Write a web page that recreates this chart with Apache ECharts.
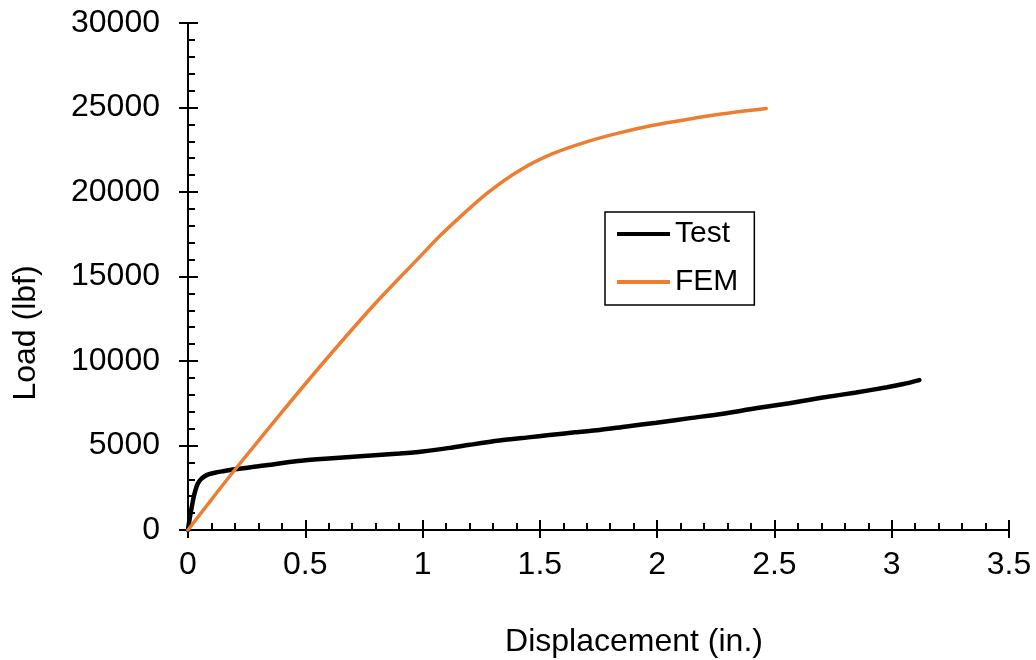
<!DOCTYPE html>
<html>
<head>
<meta charset="utf-8">
<title>Load vs Displacement</title>
<script src="https://cdn.jsdelivr.net/npm/echarts@6/dist/echarts.min.js"></script>
<style>
  html, body { margin: 0; padding: 0; background: #ffffff; }
  #chart { width: 1036px; height: 660px; }
</style>
</head>
<body>
<div id="chart"></div>
<script>
// Measured load-displacement response of the specimen
const testDisp = [0, 0.005, 0.014, 0.022, 0.0285, 0.036, 0.043, 0.055, 0.071, 0.09, 0.114, 0.15, 0.199,
  0.27, 0.341, 0.41, 0.483, 0.6, 0.75, 0.902, 1.0, 1.115, 1.2, 1.328, 1.45, 1.541, 1.65, 1.754,
  1.87, 1.997, 2.14, 2.281, 2.42, 2.564, 2.7, 2.849, 2.98, 3.05, 3.118];
const testLoad = [0, 500, 1200, 1800, 2200, 2550, 2780, 3000, 3180, 3300, 3390, 3480, 3590,
  3720, 3840, 3980, 4100, 4230, 4380, 4530, 4650, 4860, 5040, 5290, 5480, 5620, 5780, 5920,
  6130, 6350, 6620, 6880, 7200, 7500, 7820, 8140, 8450, 8640, 8870];

// Finite element prediction
const femDisp = [0, 0.1, 0.199, 0.4, 0.583, 0.8, 0.988, 1.07, 1.158, 1.273, 1.415, 1.557,
  1.699, 1.839, 1.983, 2.125, 2.266, 2.465];
const femLoad = [0, 1800, 3550, 6970, 10000, 13430, 16160, 17350, 18500, 19910, 21290, 22280,
  22970, 23500, 23950, 24290, 24600, 24940];

const seriesNames = ['Test', 'FEM'];
const xTitle = 'Displacement (in.)';
const yTitle = 'Load (lbf)';

const FONT = '"Liberation Sans", Arial, sans-serif';
const FS = 32;       // tick labels and axis titles
const FS_LEGEND = 30;

const pairs = (xs, ys) => xs.map((x, i) => [x, ys[i]]);

const chart = echarts.init(document.getElementById('chart'));

const xBase = { type: 'value', min: 0, max: 3.5, interval: 0.5, gridIndex: 0, position: 'bottom',
  splitLine: { show: false } };
const yBase = { type: 'value', min: 0, max: 30000, interval: 5000, gridIndex: 0, position: 'left',
  splitLine: { show: false } };
const axisLine = { show: true, onZero: false, lineStyle: { color: '#000', width: 2 } };

chart.setOption({
  animation: false,
  backgroundColor: '#ffffff',
  textStyle: { fontFamily: FONT },
  grid: { left: 188, right: 27, top: 23, bottom: 130, containLabel: false },
  xAxis: [
    Object.assign({}, xBase, {
      axisLine: axisLine,
      axisTick: { show: true, inside: true, length: 10, lineStyle: { color: '#000', width: 2 } },
      minorTick: { show: true, splitNumber: 5, length: 7, lineStyle: { color: '#000', width: 2 } },
      axisLabel: { color: '#000', fontSize: FS, fontFamily: FONT, margin: 19,
        formatter: v => String(v) }
    }),
    Object.assign({}, xBase, {
      axisLine: axisLine,
      axisTick: { show: true, inside: false, length: 8, lineStyle: { color: '#000', width: 2 } },
      minorTick: { show: false },
      axisLabel: { show: false }
    })
  ],
  yAxis: [
    Object.assign({}, yBase, {
      axisLine: axisLine,
      axisTick: { show: true, inside: true, length: 10, lineStyle: { color: '#000', width: 2 } },
      minorTick: { show: true, splitNumber: 5, length: 7, lineStyle: { color: '#000', width: 2 } },
      axisLabel: { color: '#000', fontSize: FS, fontFamily: FONT, margin: 28,
        formatter: v => String(v) }
    }),
    Object.assign({}, yBase, {
      axisLine: axisLine,
      axisTick: { show: true, inside: false, length: 9, lineStyle: { color: '#000', width: 2 } },
      minorTick: { show: false },
      axisLabel: { show: false }
    })
  ],
  legend: {
    data: seriesNames,
    orient: 'vertical',
    left: 605,
    top: 212,
    itemWidth: 53,
    itemHeight: 4,
    itemGap: 18,
    padding: [7, 16, 8, 12],
    borderColor: '#000',
    borderWidth: 1.5,
    backgroundColor: '#fff',
    icon: 'rect',
    textStyle: { color: '#000', fontSize: FS_LEGEND, fontFamily: FONT, padding: [0, 0, 0, 0] }
  },
  graphic: [
    { type: 'text', x: 634, y: 642,
      style: { text: xTitle, font: FS + 'px ' + FONT, fill: '#000', align: 'center', verticalAlign: 'middle' } },
    { type: 'text', x: 26, y: 333, rotation: Math.PI / 2,
      style: { text: yTitle, font: FS + 'px ' + FONT, fill: '#000', align: 'center', verticalAlign: 'middle' } }
  ],
  series: [
    {
      name: seriesNames[0], type: 'line', xAxisIndex: 0, yAxisIndex: 0,
      data: pairs(testDisp, testLoad), showSymbol: false, symbol: 'none', smooth: 0.3,
      lineStyle: { color: '#000', width: 4.5, cap: 'round' }, itemStyle: { color: '#000' }, z: 3
    },
    {
      name: seriesNames[1], type: 'line', xAxisIndex: 0, yAxisIndex: 0,
      data: pairs(femDisp, femLoad), showSymbol: false, symbol: 'none', smooth: 0.3,
      lineStyle: { color: '#ED7D31', width: 3.5, cap: 'round' }, itemStyle: { color: '#ED7D31' }, z: 4
    }
  ]
});
</script>
</body>
</html>
